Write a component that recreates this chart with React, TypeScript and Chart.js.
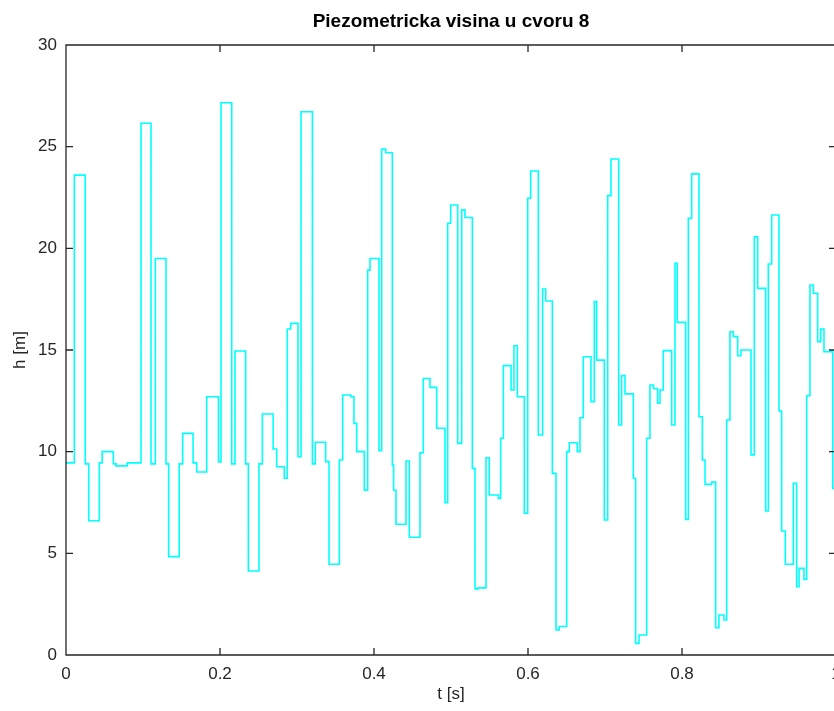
import React, { useEffect, useRef } from "react";
import { Chart, registerables } from "chart.js";

Chart.register(...registerables);

const chartTitle = "Piezometricka visina u cvoru 8";
const xLabel = "t [s]";
const yLabel = "h [m]";
const xTicks = [0, 0.2, 0.4, 0.6, 0.8, 1];
const yTicks = [0, 5, 10, 15, 20, 25, 30];

// transition times [s] and the head [m] held from each time onward
const times = [
  0, 0.0108, 0.025, 0.0295, 0.0433, 0.047, 0.0615, 0.065, 0.0797, 0.0974,
  0.1104, 0.116, 0.1299, 0.1333, 0.147, 0.1515, 0.165, 0.1697, 0.1827, 0.198,
  0.2013, 0.2152, 0.2195, 0.2333, 0.2368, 0.2506, 0.255, 0.269, 0.2736, 0.2835,
  0.2874, 0.2918, 0.3013, 0.3052, 0.32, 0.3238, 0.3372, 0.3416, 0.355, 0.3593,
  0.37, 0.374, 0.3775, 0.3874, 0.3918, 0.3948, 0.4065, 0.41, 0.4152, 0.4238,
  0.4255, 0.4286, 0.4416, 0.4459, 0.4597, 0.464, 0.4727, 0.4814, 0.4922, 0.4957,
  0.4996, 0.5087, 0.5139, 0.5182, 0.5277, 0.5312, 0.535, 0.5455, 0.5497, 0.5615,
  0.5645, 0.568, 0.578, 0.5818, 0.5862, 0.5952, 0.5996, 0.6035, 0.6134, 0.619,
  0.623, 0.6316, 0.6364, 0.6405, 0.6502, 0.6537, 0.664, 0.6675, 0.6718, 0.6818,
  0.6861, 0.6892, 0.6991, 0.7035, 0.7078, 0.7178, 0.7216, 0.726, 0.7368, 0.7398,
  0.7442, 0.7541, 0.7584, 0.763, 0.7684, 0.7714, 0.7757, 0.7866, 0.7909, 0.7939,
  0.8048, 0.8082, 0.8126, 0.8221, 0.8264, 0.8299, 0.8385, 0.8437, 0.848, 0.8545,
  0.858, 0.8623, 0.8667, 0.8723, 0.8766, 0.8896, 0.8939, 0.8983, 0.9087, 0.9121,
  0.9165, 0.926, 0.9294, 0.9342, 0.9446, 0.9489, 0.952, 0.9584, 0.9619, 0.9662,
  0.9706, 0.9762, 0.9801, 0.9844, 0.9957, 1.0,
];

const heads = [
  9.45, 23.6, 9.4, 6.6, 9.45, 10.0, 9.4, 9.3, 9.45, 26.15,
  9.4, 19.5, 9.4, 4.84, 9.4, 10.9, 9.45, 9.0, 12.7, 9.5,
  27.16, 9.4, 14.95, 9.4, 4.13, 9.4, 11.85, 10.13, 9.26, 8.69,
  16.03, 16.31, 9.75, 26.72, 9.4, 10.46, 9.51, 4.46, 9.59, 12.79,
  12.7, 11.39, 10.0, 8.11, 18.93, 19.5, 10.05, 24.88, 24.7, 9.34,
  8.1, 6.43, 9.54, 5.79, 9.95, 13.6, 13.16, 11.15, 7.49, 21.23,
  22.13, 10.41, 21.89, 21.52, 9.18, 3.25, 3.3, 9.7, 7.87, 7.7,
  10.66, 14.23, 13.03, 15.21, 12.7, 6.97, 22.46, 23.8, 10.82, 18.0,
  17.41, 8.93, 1.23, 1.4, 10.0, 10.44, 10.0, 11.67, 14.67, 12.46,
  17.38, 14.5, 6.64, 22.59, 24.39, 11.31, 13.74, 12.84, 8.69, 0.57,
  0.98, 10.66, 13.28, 13.11, 12.38, 13.03, 14.97, 11.31, 19.26, 16.36,
  6.67, 21.48, 23.66, 11.72, 9.59, 8.39, 8.5, 1.34, 1.97, 1.72,
  11.56, 15.9, 15.66, 14.72, 15.0, 9.84, 20.57, 18.03, 7.08, 19.23,
  21.64, 12.0, 6.1, 4.46, 8.44, 3.36, 4.26, 3.72, 12.75, 18.2,
  17.79, 15.41, 16.03, 14.92, 8.2, 8.2,
];

const AXIS_COLOR = "#262626";
const FONT = "'Liberation Sans', Arial, Helvetica, sans-serif";

const framePlugin = {
  id: "octaveFrame",
  afterDraw(chart: any) {
    const { ctx, chartArea } = chart;
    const { left, right, top, bottom } = chartArea;
    const xs = chart.scales.x;
    const ys = chart.scales.y;
    const tl = 7;
    ctx.save();
    ctx.strokeStyle = AXIS_COLOR;
    ctx.lineWidth = 1.3;
    ctx.beginPath();
    ctx.rect(left, top, right - left, bottom - top);
    for (const v of xTicks) {
      const px = xs.getPixelForValue(v);
      ctx.moveTo(px, bottom);
      ctx.lineTo(px, bottom - tl);
      ctx.moveTo(px, top);
      ctx.lineTo(px, top + tl);
    }
    for (const v of yTicks) {
      const py = ys.getPixelForValue(v);
      ctx.moveTo(left, py);
      ctx.lineTo(left + tl, py);
      ctx.moveTo(right, py);
      ctx.lineTo(right - tl, py);
    }
    ctx.stroke();
    ctx.fillStyle = "#000";
    ctx.font = `bold 19px ${FONT}`;
    ctx.textAlign = "center";
    ctx.textBaseline = "middle";
    ctx.fillText(chartTitle, (left + right) / 2, 22);
    ctx.restore();
  },
};

export default function App() {
  const canvasRef = useRef<HTMLCanvasElement | null>(null);

  useEffect(() => {
    const canvas = canvasRef.current;
    if (!canvas) return;
    const points = times.map((t, i) => ({ x: t, y: heads[i] }));
    const chart = new Chart(canvas, {
      type: "line",
      data: {
        datasets: [
          {
            data: points,
            borderColor: "#00FFFF",
            borderWidth: 1.6,
            pointRadius: 0,
            stepped: true,
            fill: false,
          },
        ],
      },
      plugins: [framePlugin],
      options: {
        animation: false,
        responsive: false,
        devicePixelRatio: 1,
        parsing: false as any,
        layout: { padding: { left: 0, top: 45, right: 24, bottom: 0 } },
        plugins: {
          legend: { display: false },
          title: { display: false },
          tooltip: { enabled: false },
        },
        scales: {
          x: {
            type: "linear",
            min: 0,
            max: 1,
            afterBuildTicks: (scale: any) => {
              scale.ticks = xTicks.map((v) => ({ value: v }));
            },
            afterFit: (scale: any) => {
              scale.height = 56;
            },
            grid: { display: false, drawTicks: false },
            border: { display: false },
            ticks: {
              color: AXIS_COLOR,
              font: { family: FONT, size: 17 },
              padding: 9,
              maxRotation: 0,
              callback: (v: any) => String(v),
            },
            title: {
              display: true,
              text: xLabel,
              color: AXIS_COLOR,
              font: { family: FONT, size: 17 },
              padding: { top: 0, bottom: 6 },
            },
          },
          y: {
            type: "linear",
            min: 0,
            max: 30,
            afterBuildTicks: (scale: any) => {
              scale.ticks = yTicks.map((v) => ({ value: v }));
            },
            afterFit: (scale: any) => {
              scale.width = 66;
            },
            grid: { display: false, drawTicks: false },
            border: { display: false },
            ticks: {
              color: AXIS_COLOR,
              font: { family: FONT, size: 17 },
              padding: 9,
              callback: (v: any) => String(v),
            },
            title: {
              display: true,
              text: yLabel,
              color: AXIS_COLOR,
              font: { family: FONT, size: 17 },
              padding: { top: 10, bottom: 0 },
            },
          },
        },
      },
    });
    return () => chart.destroy();
  }, []);

  return (
    <div
      style={{
        position: "fixed",
        left: 0,
        top: 0,
        width: 834,
        height: 711,
        overflow: "hidden",
        background: "#fff",
      }}
    >
      <canvas
        ref={canvasRef}
        width={860}
        height={711}
        style={{ width: 860, height: 711, display: "block" }}
      />
    </div>
  );
}
